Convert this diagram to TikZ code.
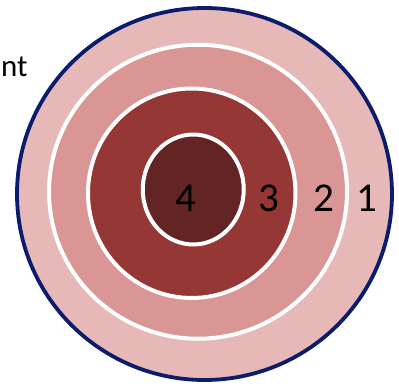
\documentclass[tikz,border=0pt]{standalone}
\usepackage{fontspec}
\setmainfont{Carlito}
\definecolor{ringA}{HTML}{E6B9B8}
\definecolor{ringB}{HTML}{D99694}
\definecolor{ringC}{HTML}{953735}
\definecolor{ringD}{HTML}{632523}
\definecolor{navyline}{HTML}{0C1C6C}
\begin{document}
\begin{tikzpicture}[x=1pt,y=-1pt,
  band/.style={draw=white,line width=4pt},
  digit/.style={font=\fontsize{41}{41}\selectfont,text=black,inner sep=0pt,anchor=center}]
\useasboundingbox (0,0) rectangle (399,390);
\fill[white] (0,0) rectangle (399,390);
\draw[fill=ringA,draw=navyline,line width=3.8pt] (204.5,194) ellipse [x radius=187.5,y radius=186];
\draw[band,fill=ringB] (198,191.75) ellipse [x radius=149,y radius=147];
\draw[band,fill=ringC] (191.75,193.25) ellipse [x radius=103.75,y radius=104.75];
\draw[band,fill=ringD] (193.25,189.5) ellipse [x radius=50.5,y radius=55];
\node[digit] (d4) at (185.5,198.5) {4};
\node[digit] (d3) at (268.5,198.5) {3};
\node[digit] (d2) at (324,198.5) {2};
\node[digit] (d1) at (367,198.5) {1};
\node[font=\fontsize{31}{31}\selectfont,anchor=base west,inner sep=0pt] (lbl) at (1,76.5) {nt};
\end{tikzpicture}
\end{document}
